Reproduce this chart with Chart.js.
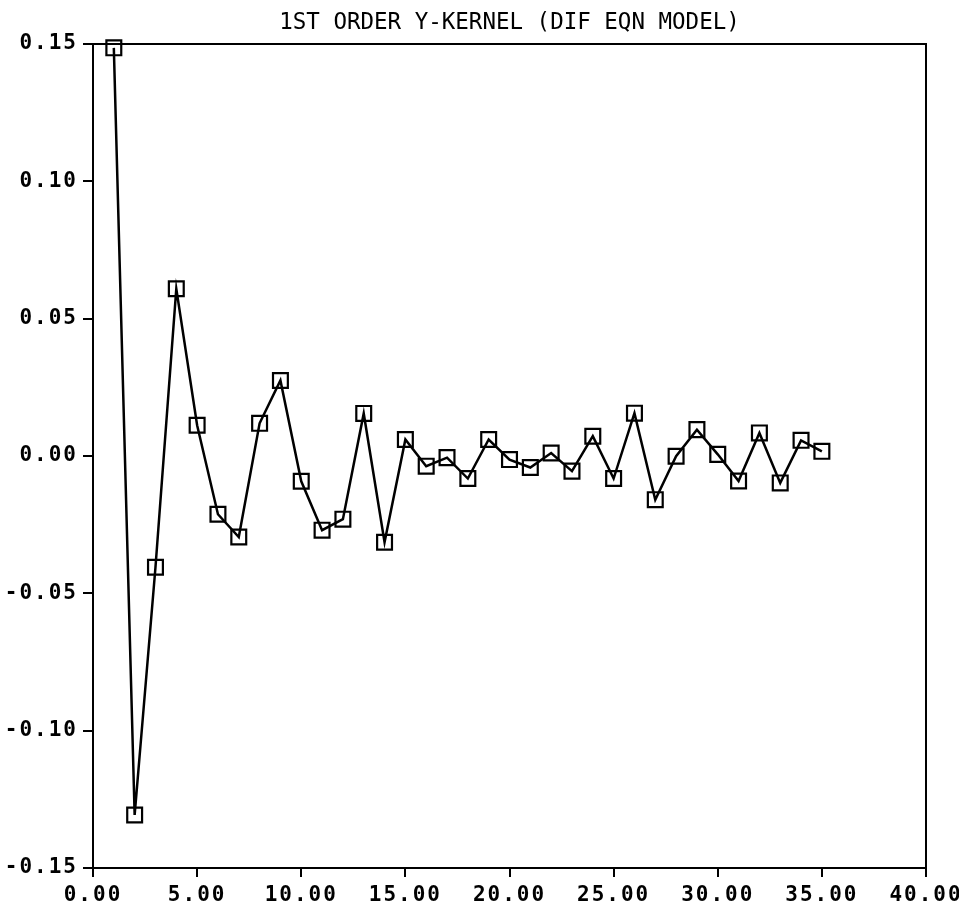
<!DOCTYPE html>
<html>
<head>
<meta charset="utf-8">
<script src="https://cdn.jsdelivr.net/npm/chart.js@4"></script>
<style>
  body { margin: 0; background: #fff; }
  canvas { display: block; }
</style>
</head>
<body>
<canvas id="kernelChart" width="959" height="901"></canvas>
<script>
// kernel lag index and values
const lags = [1, 2, 3, 4, 5, 6, 7, 8, 9, 10, 11, 12, 13, 14, 15, 16, 17, 18, 19, 20,
    21, 22, 23, 24, 25, 26, 27, 28, 29, 30, 31, 32, 33, 34, 35];
const kernel = [0.1486, -0.1307, -0.0405, 0.0609, 0.0112, -0.0212, -0.0295, 0.0119, 0.0275, -0.0092,
    -0.0270, -0.0230, 0.0155, -0.0314, 0.0060, -0.0037, -0.0006, -0.0082, 0.0060, -0.0013,
    -0.0042, 0.0011, -0.0055, 0.0072, -0.0082, 0.0156, -0.0159, -0.0001, 0.0096, 0.0006,
    -0.0091, 0.0084, -0.0098, 0.0057, 0.0017];
const xTicks = [0, 5, 10, 15, 20, 25, 30, 35, 40];
const yTicks = [-0.15, -0.10, -0.05, 0.00, 0.05, 0.10, 0.15];
const chartTitle = '1ST ORDER Y-KERNEL (DIF EQN MODEL)';

const tickFont = { family: 'DejaVu Sans Mono', size: 21, weight: 'bold' };

//white page + box round the plot
const frame = {
    id: 'frame',
    beforeDraw(chart) {
        const ctx = chart.ctx;
        ctx.save();
        ctx.fillStyle = '#fff';
        ctx.fillRect(0, 0, chart.width, chart.height);
        ctx.restore();
        // plotter labels are spaced out a bit, only the tick labels
        Object.values(chart.scales).forEach(s => {
            if (s._spaced) return;
            const drawLabels = s.drawLabels;
            s.drawLabels = function (area) {
                this.ctx.save();
                this.ctx.letterSpacing = '2px';
                drawLabels.call(this, area);
                this.ctx.restore();
            };
            s._spaced = true;
        });
    },
    afterDatasetsDraw(chart) {
        const a = chart.chartArea;
        const ctx = chart.ctx;
        ctx.save();
        ctx.strokeStyle = '#000';
        ctx.lineWidth = 2;
        ctx.strokeRect(a.left, a.top, a.right - a.left, a.bottom - a.top);
        ctx.restore();
    }
};

const canvas = document.getElementById('kernelChart').getContext('2d');
const kernelChart = new Chart(canvas, {
    type: 'line',
    data: {
        datasets: [{
            label: 'kernel',
            data: lags.map((l, i) => ({ x: l, y: kernel[i] })),
            borderColor: '#000',
            borderWidth: 2.5,
            pointStyle: 'rect',
            pointRadius: 10.5,
            pointBorderWidth: 2.2,
            pointBorderColor: '#000',
            pointBackgroundColor: 'rgba(0,0,0,0)',
            tension: 0,
            clip: false
        }]
    },
    options: {
        responsive: false,
        animation: false,
        layout: { padding: { left: 0, right: 33, top: 0, bottom: 0 } },
        plugins: {
            legend: { display: false },
            tooltip: { enabled: false },
            title: {
                display: true,
                text: chartTitle,
                color: '#000',
                fullSize: false,
                font: { family: 'DejaVu Sans Mono', size: 22.5, weight: 'normal' },
                padding: { top: 10, bottom: 7 }
            }
        },
        scales: {
            x: {
                type: 'linear',
                min: xTicks[0],
                max: xTicks[xTicks.length - 1],
                afterBuildTicks: s => { s.ticks = xTicks.map(v => ({ value: v })); },
                afterFit: s => {
                    s.height = 33;
                    s.paddingLeft = 0;
                    s.paddingRight = 0;
                },
                border: { color: '#000', width: 2 },
                grid: { drawOnChartArea: false, drawTicks: true, tickLength: 9, color: '#000', lineWidth: 2 },
                ticks: {
                    color: '#000',
                    font: tickFont,
                    padding: 6,
                    maxRotation: 0,
                    callback: v => v.toFixed(2)
                }
            },
            y: {
                type: 'linear',
                min: yTicks[0],
                max: yTicks[yTicks.length - 1],
                afterBuildTicks: s => { s.ticks = yTicks.map(v => ({ value: v })); },
                afterFit: s => { s.width = 93; },
                border: { color: '#000', width: 2 },
                grid: { drawOnChartArea: false, drawTicks: true, tickLength: 10, color: '#000', lineWidth: 2 },
                ticks: {
                    color: '#000',
                    font: tickFont,
                    padding: 5,
                    callback: v => v.toFixed(2)
                }
            }
        }
    },
    plugins: [frame]
});
</script>
</body>
</html>
